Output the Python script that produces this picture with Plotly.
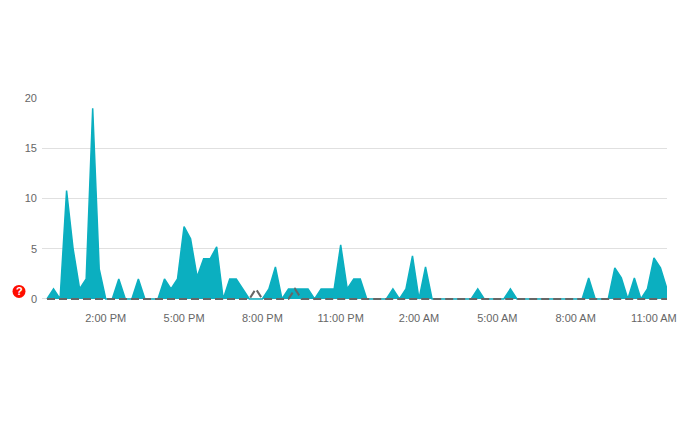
"""Quarter-hourly event counts over one day, drawn as a filled area."""

import pandas as pd
import plotly.graph_objects as go

START = "2024-01-01 11:45"

counts = [
    0, 1, 0, 10.8, 5, 1, 2, 19, 3, 0, 0, 2, 0, 0, 2, 0, 0, 0, 2, 1, 2, 7.2, 6, 2.2,
    4, 4, 5.2, 0, 2, 2, 1, 0, 0, 0, 1, 3.2, 0, 1, 1, 1, 1, 0, 1, 1, 1, 5.4, 1, 2,
    2, 0, 0, 0, 0, 1, 0, 1, 4.3, 0, 3.2, 0, 0, 0, 0, 0, 0, 0, 1, 0, 0, 0, 0, 1,
    0, 0, 0, 0, 0, 0, 0, 0, 0, 0, 0, 2.1, 0, 0, 0, 3.1, 2.1, 0, 2.1, 0, 1, 4.1, 3.1, 1,
]
baseline = [0] * 96
baseline[32] = 1
baseline[38] = 1

tick_times = [
    "2024-01-01 14:00", "2024-01-01 17:00", "2024-01-01 20:00", "2024-01-01 23:00",
    "2024-01-02 02:00", "2024-01-02 05:00", "2024-01-02 08:00", "2024-01-02 11:00",
]
tick_labels = ["2:00 PM", "5:00 PM", "8:00 PM", "11:00 PM", "2:00 AM", "5:00 AM", "8:00 AM", "11:00 AM"]
y_ticks = [0, 5, 10, 15, 20]

times = pd.date_range(START, periods=len(counts), freq="15min")

fig = go.Figure()
fig.add_trace(go.Scatter(
    x=times, y=counts, mode="lines", fill="tozeroy", cliponaxis=False,
    fillcolor="#0bafc0", line={"color": "#0bafc0", "width": 1.5},
))
fig.add_trace(go.Scatter(
    x=times, y=baseline, mode="lines", cliponaxis=False,
    line={"color": "#666666", "width": 2, "dash": "8px,4px"},
))

# the page body has an 8px margin, so the figure is 8px smaller each way
fig.update_layout(
    width=692,
    height=422,
    margin={"l": 34, "r": 33, "t": 90, "b": 128, "pad": 0},
    paper_bgcolor="#ffffff",
    plot_bgcolor="#ffffff",
    showlegend=False,
    font={"family": "Liberation Sans, Arial, sans-serif", "size": 11, "color": "#666666"},
    xaxis={
        "type": "date",
        "range": [pd.Timestamp(START) - pd.Timedelta(minutes=11.5), times[-1]],
        "tickmode": "array",
        "tickvals": tick_times,
        "ticktext": tick_labels,
        "showgrid": False,
        "zeroline": False,
        "showline": False,
        "ticks": "",
        "ticklabelstandoff": 8,
    },
    yaxis={
        # a little room below zero so the baseline is not cut in half
        "range": [-0.3, 20.02],
        "tickmode": "array",
        "tickvals": y_ticks,
        "gridcolor": "#e0e0e0",
        "gridwidth": 1,
        "zeroline": False,
        "showline": False,
        "ticks": "",
        "ticklabelstandoff": 4,
    },
    # red help badge left of the zero label
    shapes=[{
        "type": "circle", "xref": "paper", "yref": "paper", "layer": "below",
        "xsizemode": "pixel", "ysizemode": "pixel",
        "xanchor": -0.0368, "yanchor": 0.052,
        "x0": -6.5, "x1": 6.5, "y0": -6.5, "y1": 6.5,
        "fillcolor": "#ff0d00", "line": {"width": 0},
    }],
    annotations=[{
        "x": -0.0368, "y": 0.052, "xref": "paper", "yref": "paper",
        "xanchor": "center", "yanchor": "middle",
        "text": "<b>?</b>", "showarrow": False,
        "font": {"family": "Liberation Sans, Arial, sans-serif", "size": 11, "color": "#ffffff"},
    }],
)

fig.write_html("out.html")
